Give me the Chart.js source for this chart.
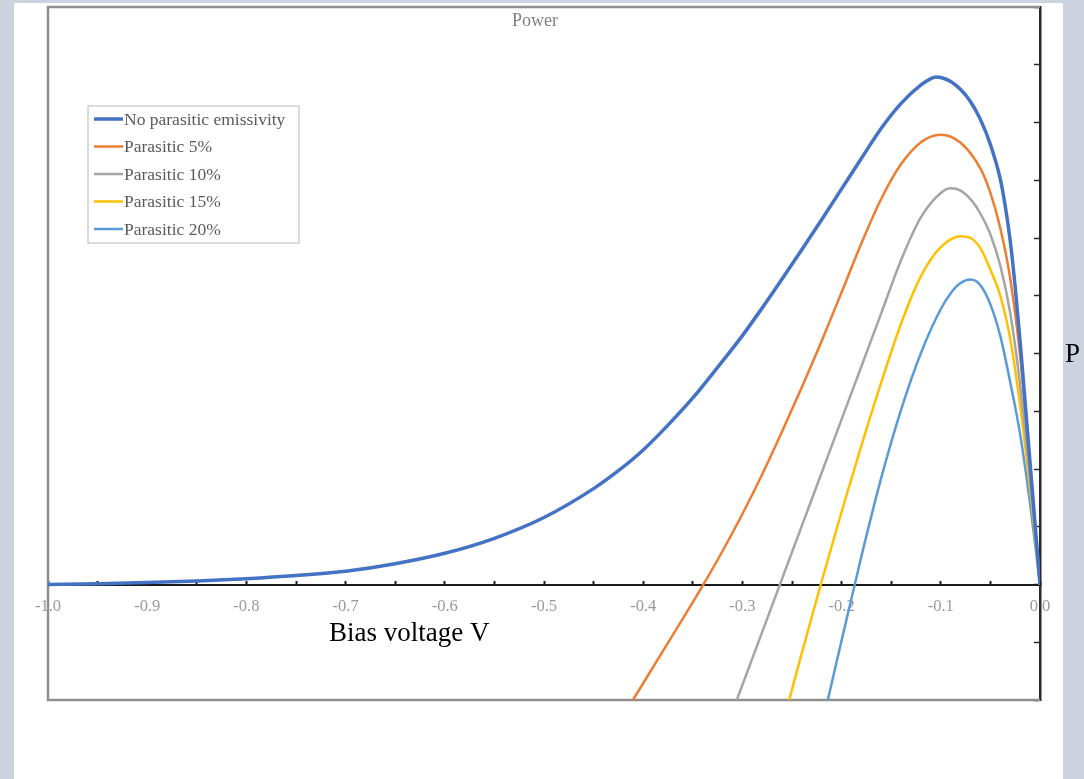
<!DOCTYPE html>
<html>
<head>
<meta charset="utf-8">
<script src="https://cdn.jsdelivr.net/npm/chart.js@4.4.1/dist/chart.umd.min.js"></script>
<style>
  html, body { margin: 0; padding: 0; }
  body { width: 1084px; height: 779px; background: #ccd3df; position: relative; overflow: hidden; }
  #card { position: absolute; left: 14px; top: 3px; width: 1049px; height: 776px; background: #fff; }
  #wrap { position: absolute; left: 0; top: 0; width: 1084px; height: 779px; }
</style>
</head>
<body>
<div id="card"></div>
<div id="wrap"><canvas id="power-chart"></canvas></div>
<script>
// values (bias voltage in V, power in axis units)
const seriesNames = ['No parasitic emissivity', 'Parasitic 5%', 'Parasitic 10%', 'Parasitic 15%', 'Parasitic 20%'];
const seriesColors = ['#4472c4', '#ed7d31', '#a5a5a5', '#ffc000', '#5b9bd5'];

const noParasiticV = [-1.0, -0.95, -0.9, -0.85, -0.8, -0.75, -0.7, -0.65, -0.6, -0.55, -0.5, -0.45, -0.425, -0.4, -0.375, -0.35, -0.325, -0.3, -0.28, -0.26, -0.24, -0.22, -0.2, -0.18, -0.16, -0.14, -0.12, -0.11, -0.105, -0.1, -0.09, -0.08, -0.07, -0.06, -0.05, -0.04, -0.035, -0.03, -0.025, -0.02, -0.01, 0.0];
const noParasiticP = [0.0, 0.015, 0.035, 0.06, 0.10, 0.155, 0.23, 0.36, 0.54, 0.80, 1.16, 1.66, 1.97, 2.33, 2.76, 3.23, 3.76, 4.31, 4.79, 5.29, 5.80, 6.32, 6.85, 7.38, 7.9, 8.33, 8.65, 8.76, 8.79, 8.78, 8.71, 8.57, 8.36, 8.05, 7.62, 7.02, 6.55, 5.95, 5.15, 4.2, 2.1, 0.0];

const p5V = [-0.42, -0.40, -0.38, -0.36, -0.34, -0.32, -0.30, -0.28, -0.26, -0.24, -0.22, -0.20, -0.18, -0.16, -0.14, -0.12, -0.10, -0.08, -0.06, -0.05, -0.04, -0.03, -0.02, -0.01, 0.0];
const p5P = [-2.27, -1.71, -1.15, -0.59, -0.02, 0.58, 1.22, 1.91, 2.65, 3.42, 4.22, 5.06, 5.91, 6.68, 7.28, 7.66, 7.79, 7.65, 7.2, 6.78, 6.17, 5.3, 3.95, 2.05, 0.0];

const p10V = [-0.32, -0.30, -0.28, -0.26, -0.24, -0.22, -0.20, -0.18, -0.16, -0.14, -0.12, -0.10, -0.09, -0.08, -0.068, -0.06, -0.05, -0.04, -0.03, -0.02, -0.01, 0.0];
const p10P = [-2.66, -1.74, -0.82, 0.10, 1.02, 1.94, 2.86, 3.78, 4.70, 5.62, 6.36, 6.78, 6.86, 6.82, 6.63, 6.42, 6.06, 5.52, 4.7, 3.45, 1.8, 0.0];

const p15V = [-0.26, -0.24, -0.22, -0.20, -0.18, -0.16, -0.14, -0.12, -0.10, -0.08, -0.07, -0.06, -0.05, -0.04, -0.03, -0.02, -0.01, 0.0];
const p15P = [-2.46, -1.18, 0.06, 1.26, 2.41, 3.50, 4.52, 5.34, 5.84, 6.03, 6.0, 5.82, 5.45, 5.0, 4.25, 3.1, 1.65, 0.0];

const p20V = [-0.22, -0.20, -0.18, -0.16, -0.14, -0.12, -0.10, -0.09, -0.08, -0.07, -0.06, -0.05, -0.04, -0.03, -0.02, -0.01, 0.0];
const p20P = [-2.45, -0.97, 0.49, 1.85, 3.03, 4.01, 4.77, 5.045, 5.22, 5.28, 5.18, 4.85, 4.3, 3.5, 2.6, 1.4, 0.0];

const xMin = -1.0, xMax = 0.0, xStep = 0.05;
const yMin = -2, yMax = 10, yStep = 1;

function toPoints(vs, ps) {
    return vs.map((v, i) => ({ x: v, y: ps[i] }));
}

const allV = [noParasiticV, p5V, p10V, p15V, p20V];
const allP = [noParasiticP, p5P, p10P, p15P, p20P];

let datasets = seriesNames.map((name, i) => ({
    label: name,
    data: toPoints(allV[i], allP[i]),
    borderColor: seriesColors[i],
    borderWidth: i === 0 ? 3.5 : 2.5,
    pointRadius: 0,
    fill: false,
    cubicInterpolationMode: 'monotone',
    clip: 0
}));

// frame round the plot (top, left, bottom), the right side is the P axis
const framePlugin = {
    id: 'frame',
    beforeDatasetsDraw(chart) {
        const a = chart.chartArea;
        const ctx = chart.ctx;
        ctx.save();
        ctx.strokeStyle = '#8e8e8e';
        ctx.lineWidth = 2.5;
        ctx.beginPath();
        ctx.moveTo(a.right, a.top);
        ctx.lineTo(a.left, a.top);
        ctx.lineTo(a.left, a.bottom);
        ctx.lineTo(a.right, a.bottom);
        ctx.stroke();
        ctx.restore();
    }
};

// title, axis names and the boxed legend
const textPlugin = {
    id: 'texts',
    afterDraw(chart) {
        const ctx = chart.ctx;
        ctx.save();
        ctx.fillStyle = '#808080';
        ctx.font = '18px "Liberation Serif", serif';
        ctx.textAlign = 'center';
        ctx.textBaseline = 'alphabetic';
        ctx.fillText('Power', 535, 26);

        ctx.fillStyle = '#000';
        ctx.font = '27px "Liberation Serif", serif';
        ctx.textAlign = 'left';
        ctx.fillText('Bias voltage V', 329, 641);
        ctx.fillText('P', 1065, 362);

        // legend
        const bx = 88, by = 106, bw = 211, bh = 137;
        ctx.strokeStyle = '#cfcfcf';
        ctx.lineWidth = 1.5;
        ctx.strokeRect(bx, by, bw, bh);
        ctx.font = '17.5px "Liberation Serif", serif';
        ctx.textBaseline = 'middle';
        chart.data.datasets.forEach((ds, i) => {
            const cy = 119 + i * 27.5;
            ctx.strokeStyle = ds.borderColor;
            ctx.lineWidth = i === 0 ? 3.5 : 2.5;
            ctx.beginPath();
            ctx.moveTo(94, cy);
            ctx.lineTo(123, cy);
            ctx.stroke();
            ctx.fillStyle = '#5a5a5a';
            ctx.fillText(ds.label, 124, cy + 1);
        });
        ctx.restore();
    }
};

let ctx = document.getElementById('power-chart').getContext('2d');
let powerChart = new Chart(ctx, {
    type: 'line',
    data: { datasets: datasets },
    options: {
        responsive: true,
        maintainAspectRatio: false,
        animation: false,
        layout: { padding: { left: 48, top: 7, right: 44, bottom: 79 } },
        plugins: {
            legend: { display: false },
            title: { display: false },
            tooltip: { enabled: false }
        },
        scales: {
            x: {
                type: 'linear',
                position: { y: 0 },
                min: xMin,
                max: xMax,
                afterFit(s) { s.height = 0; },
                border: { display: true, color: '#1a1a1a', width: 2 },
                grid: { display: true, drawOnChartArea: false, drawTicks: true, tickLength: -5, tickColor: '#1a1a1a', tickWidth: 2 },
                ticks: {
                    stepSize: xStep,
                    autoSkip: false,
                    maxRotation: 0,
                    padding: 17,
                    color: '#999999',
                    font: { family: '"Liberation Serif", serif', size: 16.5 },
                    callback: (v) => {
                        const k = Math.round(v * 100);
                        return k % 10 === 0 ? (k / 100).toFixed(1) : '';
                    }
                }
            },
            y: {
                type: 'linear',
                position: { x: 0 },
                min: yMin,
                max: yMax,
                afterFit(s) { s.width = 0; },
                border: { display: true, color: '#2a2a2a', width: 2.5 },
                grid: { display: true, drawOnChartArea: false, drawTicks: true, tickLength: 5, tickColor: '#2a2a2a', tickWidth: 1.5 },
                ticks: { display: false, stepSize: yStep }
            }
        }
    },
    plugins: [framePlugin, textPlugin]
});
</script>
</body>
</html>
